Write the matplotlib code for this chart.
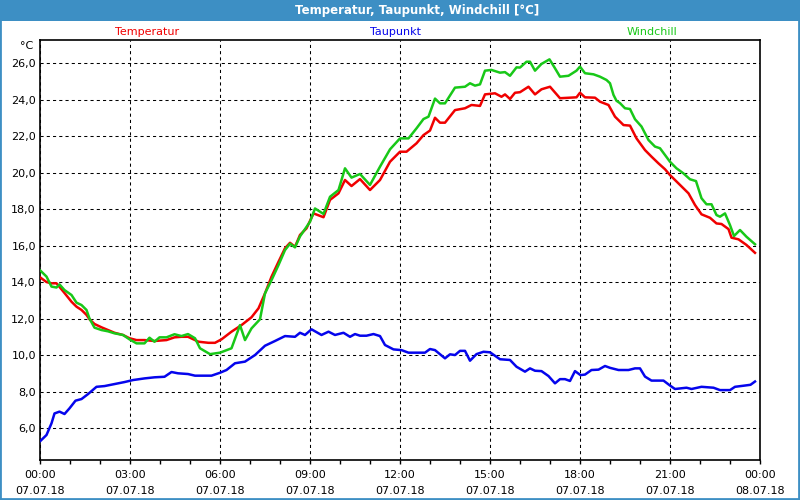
import numpy as np
import matplotlib
matplotlib.use("Agg")
import matplotlib.pyplot as plt
from matplotlib.patches import Rectangle
from matplotlib.ticker import MultipleLocator, FuncFormatter

# Minuten seit 00:00 am 07.07.18 und Werte in °C
temp_min = [1, 13, 23, 33, 49, 63, 73, 83, 93, 99, 109, 123, 136, 149, 166, 179, 193, 209,
            229, 253, 269, 283, 296, 317, 337, 350, 363, 383, 403, 423, 437, 450, 463, 477,
            490, 500, 510, 520, 533, 547, 567, 580, 597, 610, 623, 640, 660, 680, 700, 720,
            733, 753, 767, 780, 790, 800, 810, 830, 850, 863, 880, 890, 910, 923, 930, 940,
            950, 960, 977, 990, 1003, 1020, 1040, 1060, 1073, 1080, 1090, 1110, 1120, 1137,
            1150, 1167, 1180, 1193, 1210, 1223, 1237, 1250, 1260, 1280, 1297, 1310, 1323,
            1340, 1353, 1363, 1377, 1383, 1397, 1413, 1430]
temp_val = [14.24, 14.0, 13.93, 13.93, 13.4, 12.92, 12.65, 12.47, 12.2, 11.96, 11.7, 11.52,
            11.37, 11.22, 11.1, 10.92, 10.82, 10.82, 10.77, 10.82, 10.97, 11.0, 11.0, 10.73,
            10.67, 10.67, 10.86, 11.28, 11.64, 12.07, 12.56, 13.38, 14.29, 15.11, 15.85,
            16.15, 15.93, 16.58, 16.94, 17.76, 17.55, 18.5, 18.86, 19.59, 19.26, 19.64, 19.04,
            19.59, 20.59, 21.14, 21.14, 21.6, 22.05, 22.3, 23.0, 22.73, 22.73, 23.42, 23.52,
            23.7, 23.65, 24.28, 24.34, 24.15, 24.28, 24.03, 24.37, 24.4, 24.7, 24.28, 24.56,
            24.7, 24.07, 24.1, 24.12, 24.37, 24.12, 24.1, 23.88, 23.7, 23.06, 22.6, 22.57,
            21.87, 21.23, 20.87, 20.5, 20.18, 19.86, 19.32, 18.86, 18.22, 17.71, 17.52, 17.21,
            17.18, 16.9, 16.43, 16.34, 16.03, 15.6]

dew_min = [1, 13, 23, 29, 39, 49, 59, 71, 83, 96, 113, 129, 149, 169, 186, 209, 229, 249,
           263, 276, 296, 310, 343, 360, 373, 390, 410, 430, 450, 470, 490, 510, 520, 530,
           543, 563, 577, 590, 607, 620, 630, 640, 653, 667, 680, 690, 707, 723, 737, 770,
           780, 790, 810, 820, 830, 840, 850, 860, 873, 887, 900, 920, 940, 953, 970, 980,
           990, 1003, 1017, 1030, 1040, 1050, 1060, 1070, 1081, 1090, 1103, 1117, 1130,
           1140, 1157, 1177, 1190, 1200, 1210, 1223, 1247, 1260, 1270, 1293, 1303, 1323,
           1347, 1360, 1380, 1390, 1410, 1421, 1430]
dew_val = [5.3, 5.62, 6.26, 6.8, 6.9, 6.77, 7.08, 7.5, 7.59, 7.86, 8.26, 8.3, 8.41, 8.52,
           8.63, 8.72, 8.78, 8.81, 9.07, 9.0, 8.96, 8.87, 8.87, 9.03, 9.18, 9.55, 9.64, 10.0,
           10.51, 10.77, 11.04, 11.0, 11.22, 11.1, 11.41, 11.1, 11.28, 11.1, 11.22, 11.0,
           11.15, 11.06, 11.06, 11.15, 11.04, 10.55, 10.31, 10.27, 10.13, 10.13, 10.33, 10.27,
           9.82, 10.04, 10.0, 10.23, 10.23, 9.69, 10.05, 10.18, 10.15, 9.77, 9.73, 9.36, 9.09,
           9.27, 9.14, 9.12, 8.85, 8.45, 8.68, 8.68, 8.58, 9.12, 8.9, 8.93, 9.18, 9.2, 9.4,
           9.3, 9.18, 9.18, 9.27, 9.27, 8.82, 8.6, 8.6, 8.33, 8.14, 8.21, 8.14, 8.26, 8.21,
           8.08, 8.08, 8.26, 8.33, 8.37, 8.55]

wind_min = [1, 13, 23, 33, 39, 49, 63, 73, 83, 93, 99, 109, 123, 136, 149, 166, 179, 193,
            209, 219, 229, 239, 253, 269, 283, 296, 310, 320, 340, 360, 383, 400, 410, 423,
            440, 450, 463, 477, 490, 500, 510, 520, 540, 550, 567, 580, 597, 610, 623, 640,
            660, 680, 700, 720, 737, 753, 767, 777, 790, 800, 810, 830, 850, 860, 870, 880,
            890, 903, 920, 930, 940, 953, 960, 973, 980, 990, 1003, 1019, 1030, 1040, 1057,
            1073, 1080, 1090, 1107, 1120, 1133, 1140, 1147, 1153, 1160, 1170, 1180, 1190,
            1203, 1217, 1230, 1240, 1250, 1260, 1273, 1287, 1300, 1312, 1323, 1333, 1343,
            1353, 1360, 1370, 1380, 1388, 1400, 1413, 1430]
wind_val = [14.62, 14.3, 13.75, 13.7, 13.87, 13.56, 13.29, 12.87, 12.74, 12.47, 12.0, 11.5,
            11.37, 11.3, 11.19, 11.1, 10.86, 10.64, 10.64, 10.95, 10.73, 10.97, 10.97, 11.14,
            11.04, 11.15, 10.92, 10.37, 10.05, 10.13, 10.37, 11.64, 10.82, 11.46, 11.96,
            13.38, 14.1, 14.93, 15.75, 16.1, 15.9, 16.5, 17.3, 18.03, 17.73, 18.67, 19.04,
            20.23, 19.72, 19.92, 19.32, 20.32, 21.27, 21.87, 21.87, 22.42, 22.93, 23.06, 24.05,
            23.79, 23.79, 24.65, 24.7, 24.89, 24.76, 24.83, 25.58, 25.62, 25.47, 25.5, 25.3,
            25.76, 25.75, 26.07, 26.07, 25.58, 25.95, 26.2, 25.71, 25.25, 25.3, 25.58, 25.8,
            25.44, 25.38, 25.25, 25.07, 24.89, 24.25, 23.93, 23.8, 23.52, 23.48, 22.92, 22.52,
            21.78, 21.42, 21.33, 20.96, 20.59, 20.23, 19.95, 19.63, 19.53, 18.59, 18.26, 18.26,
            17.67, 17.58, 17.76, 17.12, 16.52, 16.85, 16.48, 16.07]

x_ticks = [0, 3, 6, 9, 12, 15, 18, 21, 24]
x_labels = ["00:00\n07.07.18", "03:00\n07.07.18", "06:00\n07.07.18", "09:00\n07.07.18",
            "12:00\n07.07.18", "15:00\n07.07.18", "18:00\n07.07.18", "21:00\n07.07.18",
            "00:00\n08.07.18"]
y_ticks = [6, 8, 10, 12, 14, 16, 18, 20, 22, 24, 26]

frame_blue = "#3d8fc4"
c_temp = "#f00000"
c_dew = "#0505ec"
c_wind = "#18c818"

plt.rcParams["font.family"] = ["DejaVu Sans"]

fig = plt.figure(figsize=(8, 5), dpi=100)
fig.patch.set_facecolor("white")

# Rahmen und Titelleiste
fig.patches.append(Rectangle((0, 0.958), 1, 0.042, transform=fig.transFigure,
                             facecolor=frame_blue, edgecolor="none", zorder=0))
fig.patches.append(Rectangle((0.0006, 0.002), 0.9976, 0.996, transform=fig.transFigure,
                             facecolor="none", edgecolor=frame_blue, lw=2, zorder=0))
fig.text(0.521, 0.979, "Temperatur, Taupunkt, Windchill [°C]", color="white",
         fontsize=8.5, fontweight="bold", ha="center", va="center")

ax = fig.add_axes([0.05, 0.08, 0.9, 0.84])

ax.plot(np.array(dew_min) / 60, dew_val, color=c_dew, lw=1.8, zorder=3)
ax.plot(np.array(temp_min) / 60, temp_val, color=c_temp, lw=1.8, zorder=4)
ax.plot(np.array(wind_min) / 60, wind_val, color=c_wind, lw=1.8, zorder=5)

ax.set_xlim(0, 24)
ax.set_ylim(4.25, 27.26)

ax.set_xticks(x_ticks)
ax.set_xticklabels(x_labels, fontsize=8, linespacing=1.65)
ax.xaxis.set_minor_locator(MultipleLocator(1))
ax.tick_params(axis="x", which="both", direction="out", length=3, width=1, pad=4.5)
ax.set_yticks(y_ticks)
ax.yaxis.set_major_formatter(FuncFormatter(lambda v, p: f"{v:.1f}".replace(".", ",")))
ax.tick_params(axis="y", length=0, pad=3, labelsize=8)

ax.grid(True, which="major", color="black", lw=0.75, linestyle=(0, (3, 3)))
for s in ax.spines.values():
    s.set_linewidth(1.2)
    s.set_color("black")

ax.text(-0.01, 0.997, "°C", transform=ax.transAxes, fontsize=8, ha="right", va="top")

fig.text(0.184, 0.936, "Temperatur", color=c_temp, fontsize=8, ha="center", va="center")
fig.text(0.494, 0.936, "Taupunkt", color=c_dew, fontsize=8, ha="center", va="center")
fig.text(0.815, 0.936, "Windchill", color=c_wind, fontsize=8, ha="center", va="center")

fig.savefig("out.png", dpi=100)
